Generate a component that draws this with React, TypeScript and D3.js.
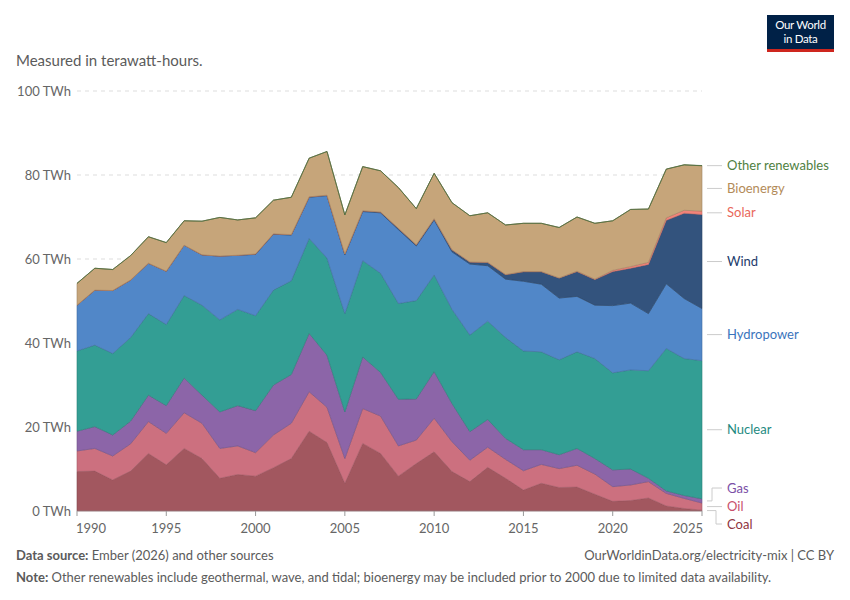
import { useEffect } from 'react';
import * as d3 from 'd3';

// Electricity generation by source, TWh
const years = [
  1990, 1991, 1992, 1993, 1994, 1995, 1996, 1997, 1998, 1999,
  2000, 2001, 2002, 2003, 2004, 2005, 2006, 2007, 2008, 2009,
  2010, 2011, 2012, 2013, 2014, 2015, 2016, 2017, 2018, 2019,
  2020, 2021, 2022, 2023, 2024, 2025
];
const coal = [
  9.4, 9.5, 7.4, 9.5, 13.7, 11.0, 14.9, 12.5, 7.8, 8.7,
  8.3, 10.3, 12.5, 19.0, 16.3, 6.6, 16.1, 13.7, 8.3, 11.3,
  14.1, 9.4, 7.0, 10.4, 7.8, 5.0, 6.6, 5.6, 5.7, 4.0,
  2.3, 2.5, 3.1, 1.2, 0.6, 0.2
];
const oil = [
  4.9, 5.4, 5.7, 6.5, 7.6, 7.5, 8.5, 8.4, 7.1, 6.8,
  5.6, 7.8, 8.4, 9.4, 8.4, 5.9, 8.3, 8.9, 7.2, 5.6,
  8.0, 7.1, 5.1, 4.8, 4.5, 4.6, 4.5, 4.5, 5.2, 4.8,
  3.5, 3.7, 3.9, 3.0, 2.4, 1.7
];
const gas = [
  4.7, 5.2, 5.0, 5.4, 6.3, 6.6, 8.3, 6.7, 8.7, 9.6,
  10.0, 11.9, 11.6, 13.9, 12.4, 11.1, 12.3, 10.4, 11.1, 9.8,
  11.1, 9.1, 6.8, 6.6, 5.0, 5.0, 3.5, 3.3, 4.0, 3.7,
  4.0, 3.8, 0.8, 0.6, 0.7, 1.0
];
const nuclear = [
  19.1, 19.4, 19.4, 19.9, 19.4, 19.3, 19.6, 21.4, 21.9, 22.9,
  22.6, 22.6, 22.3, 22.6, 23.1, 23.4, 22.9, 23.6, 22.8, 23.4,
  23.0, 22.4, 23.0, 23.4, 24.0, 23.5, 23.3, 22.6, 23.0, 23.8,
  23.1, 23.6, 25.6, 33.9, 32.6, 32.9
];
const hydropower = [
  10.9, 13.1, 15.0, 13.7, 12.0, 12.7, 12.0, 12.0, 15.2, 12.9,
  14.6, 13.3, 10.9, 9.8, 14.9, 14.0, 11.7, 14.4, 17.6, 13.0,
  13.1, 13.7, 16.9, 13.2, 13.9, 16.6, 16.1, 14.7, 13.2, 12.7,
  16.0, 15.9, 13.6, 15.4, 14.3, 12.4
];
const wind = [
  0, 0, 0, 0, 0, 0, 0, 0, 0, 0,
  0.1, 0.1, 0.1, 0.1, 0.1, 0.2, 0.2, 0.2, 0.3, 0.3,
  0.3, 0.5, 0.5, 0.8, 1.1, 2.3, 3.0, 4.8, 5.9, 6.1,
  8.1, 8.3, 11.7, 15.1, 20.3, 22.4
];
const solar = [
  0, 0, 0, 0, 0, 0, 0, 0, 0, 0,
  0, 0, 0, 0, 0, 0, 0, 0, 0, 0,
  0, 0, 0, 0, 0, 0, 0, 0, 0.1, 0.1,
  0.3, 0.4, 0.5, 0.6, 0.7, 0.8
];
const bioenergy = [
  5.2, 5.2, 5.0, 5.8, 6.3, 6.8, 5.8, 8.0, 9.2, 8.4,
  8.6, 8.0, 8.9, 9.2, 10.4, 9.3, 10.5, 9.8, 9.7, 8.6,
  10.8, 11.2, 11.0, 11.8, 11.8, 11.5, 11.5, 12.0, 12.9, 13.3,
  11.8, 13.6, 12.7, 11.6, 10.8, 10.8
];
const otherRenewables = [
  0, 0, 0, 0, 0, 0, 0, 0, 0, 0,
  0, 0, 0, 0, 0, 0, 0, 0, 0, 0,
  0, 0, 0, 0, 0, 0, 0, 0, 0, 0,
  0, 0, 0, 0, 0.05, 0.05
];

const yTicks = [0, 20, 40, 60, 80, 100];
const xTicks = [1990, 1995, 2000, 2005, 2010, 2015, 2020, 2025];

const series = [
  { key: 'coal', label: 'Coal', values: coal, fill: '#a2575f', text: '#8f3440' },
  { key: 'oil', label: 'Oil', values: oil, fill: '#cc707f', text: '#c9506b' },
  { key: 'gas', label: 'Gas', values: gas, fill: '#8c65a8', text: '#7b4fa6' },
  { key: 'nuclear', label: 'Nuclear', values: nuclear, fill: '#339e94', text: '#1e8a7f' },
  { key: 'hydropower', label: 'Hydropower', values: hydropower, fill: '#5187c8', text: '#3b74bc' },
  { key: 'wind', label: 'Wind', values: wind, fill: '#33537d', text: '#1d3b6b' },
  { key: 'solar', label: 'Solar', values: solar, fill: '#f2837a', text: '#e9675a' },
  { key: 'bioenergy', label: 'Bioenergy', values: bioenergy, fill: '#c6a57a', text: '#b38b59' },
  { key: 'other', label: 'Other renewables', values: otherRenewables, fill: '#578145', text: '#4f7f3f' }
];

const width = 850;
const height = 600;
const margin = { top: 91, right: 148, bottom: 89, left: 77 };
const font = 'Lato, "Noto Sans", sans-serif';

export default function App() {
  useEffect(() => {
    document.body.style.margin = '0';
  }, []);

  const innerRight = width - margin.right;
  const innerBottom = height - margin.bottom;

  const x = d3.scaleLinear().domain([1990, 2025]).range([margin.left, innerRight]);
  const y = d3.scaleLinear().domain([0, 100]).range([innerBottom, margin.top]);

  const rows = years.map((yr, i) => {
    const row: Record<string, number> = { year: yr };
    series.forEach(s => { row[s.key] = s.values[i]; });
    return row;
  });

  const stacked = d3.stack<Record<string, number>>()
    .keys(series.map(s => s.key))
    .order(d3.stackOrderNone)
    .offset(d3.stackOffsetNone)(rows);

  const area = d3.area<any>()
    .x(d => x(d.data.year))
    .y0(d => y(d[0]))
    .y1(d => y(d[1]));

  // label placement at the last year, pushed apart where they collide
  const last = years.length - 1;
  const minGap = 18;
  const labels = stacked.map((layer, i) => {
    const d = layer[last];
    return { ...series[i], mid: y((d[0] + d[1]) / 2), pos: y((d[0] + d[1]) / 2) };
  });
  const order = [...labels].sort((a, b) => a.mid - b.mid);
  let groups: { items: typeof labels }[] = order.map(l => ({ items: [l] }));
  let moved = true;
  while (moved) {
    moved = false;
    groups.forEach(g => {
      const c = d3.mean(g.items, l => l.mid) as number;
      const start = c - ((g.items.length - 1) * minGap) / 2;
      g.items.forEach((l, k) => { l.pos = start + k * minGap; });
    });
    for (let i = 0; i < groups.length - 1; i++) {
      const a = groups[i].items[groups[i].items.length - 1];
      const b = groups[i + 1].items[0];
      if (b.pos - a.pos < minGap) {
        groups[i] = { items: [...groups[i].items, ...groups[i + 1].items] };
        groups.splice(i + 1, 1);
        moved = true;
        break;
      }
    }
  }

  const labelX = 727;

  return (
    <svg width={width} height={height} style={{ display: 'block', fontFamily: font }}>
      <rect width={width} height={height} fill="#ffffff" />

      {/* logo */}
      <rect x={767} y={15} width={67} height={37} fill="#002147" />
      <rect x={767} y={49} width={67} height={3} fill="#ce261e" />
      <text x={800.5} y={29} textAnchor="middle" fill="#ffffff" fontSize={11.5} letterSpacing={-0.3}>Our World</text>
      <text x={800.5} y={43} textAnchor="middle" fill="#ffffff" fontSize={11.5} letterSpacing={-0.3}>in Data</text>

      <text x={16} y={66} fill="#5b5b5b" fontSize={15}>Measured in terawatt-hours.</text>

      {/* grid + y labels */}
      {yTicks.map(t => (
        <g key={t}>
          {t > 0 && (
            <line x1={margin.left} x2={innerRight} y1={y(t)} y2={y(t)}
              stroke="#dddddd" strokeDasharray="4,4" />
          )}
          <text x={71} y={y(t)} dy="0.35em" textAnchor="end" fill="#666666" fontSize={13}>
            {t} TWh
          </text>
        </g>
      ))}

      {/* stacked areas */}
      {stacked.map((layer, i) => (
        <path key={series[i].key} d={area(layer) as string}
          fill={series[i].fill}
          stroke={d3.color(series[i].fill)!.darker(0.6).formatHex()}
          strokeWidth={0.6} />
      ))}

      {/* x axis */}
      <line x1={margin.left} x2={innerRight} y1={innerBottom} y2={innerBottom} stroke="#999999" strokeWidth={0.5} />
      {xTicks.map((t, i) => (
        <g key={t}>
          <line x1={x(t)} x2={x(t)} y1={innerBottom} y2={innerBottom + 5} stroke="#999999" />
          <text x={i === 0 ? x(t) - 1 : i === xTicks.length - 1 ? x(t) + 1 : x(t)}
            y={innerBottom + 18} dy="0.32em"
            textAnchor={i === 0 ? 'start' : i === xTicks.length - 1 ? 'end' : 'middle'}
            fill="#666666" fontSize={13}>
            {t}
          </text>
        </g>
      ))}

      {/* series labels */}
      {labels.map(l => {
        const same = Math.abs(l.pos - l.mid) < 2;
        const elbow = l.pos < l.mid ? 712 : 716;
        const d = same
          ? `M707,${l.mid}H722`
          : `M707,${l.mid}H${elbow}V${l.pos}H722`;
        return (
          <g key={l.key}>
            <path d={d} fill="none" stroke="#cccccc" strokeWidth={1} />
            <text x={labelX} y={l.pos} dy="0.35em" fill={l.text} fontSize={13}>{l.label}</text>
          </g>
        );
      })}

      {/* footer */}
      <text x={16} y={560} fill="#5b5b5b" fontSize={13}>
        <tspan fontWeight={700}>Data source:</tspan> Ember (2026) and other sources
      </text>
      <text x={834} y={560} textAnchor="end" fill="#5b5b5b" fontSize={13}>
        OurWorldinData.org/electricity-mix | CC BY
      </text>
      <text x={16} y={582} fill="#5b5b5b" fontSize={13}>
        <tspan fontWeight={700}>Note:</tspan> Other renewables include geothermal, wave, and tidal; bioenergy may be included prior to 2000 due to limited data availability.
      </text>
    </svg>
  );
}
